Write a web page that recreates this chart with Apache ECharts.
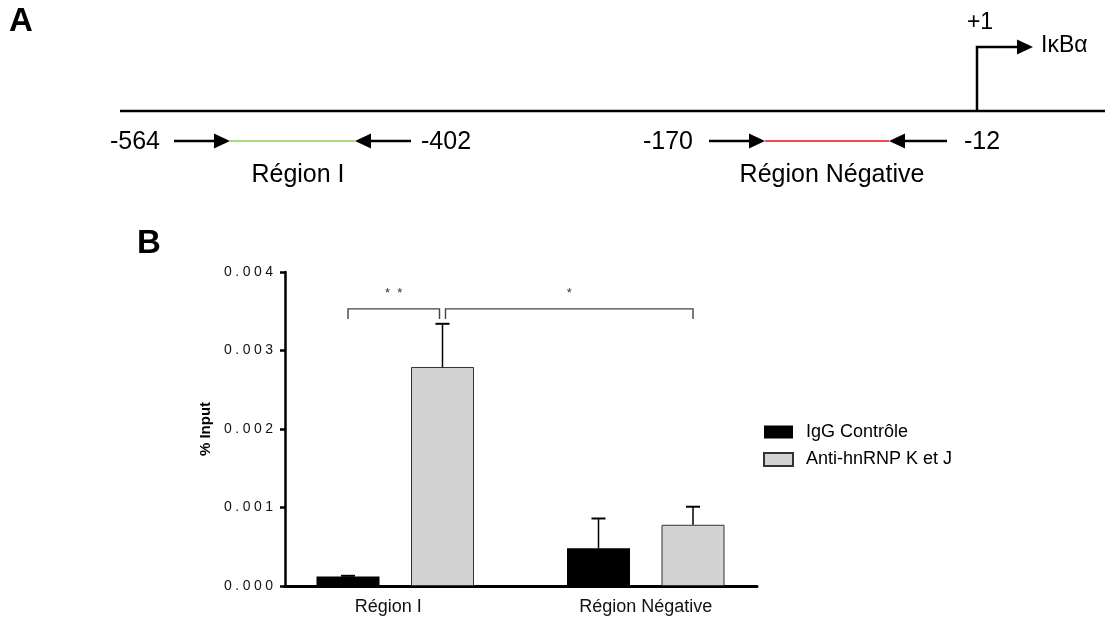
<!DOCTYPE html>
<html>
<head>
<meta charset="utf-8">
<script src="https://cdn.jsdelivr.net/npm/echarts@6/dist/echarts.min.js"></script>
<style>
  html, body { margin: 0; padding: 0; background: #fff; }
  #chart { width: 1109px; height: 620px; }
</style>
</head>
<body>
<div id="chart"></div>
<script>
// --- data ---
var categories = ['Région I', 'Région Négative'];
var seriesNames = ['IgG Contrôle', 'Anti-hnRNP K et J'];
var iggValues = [0.00012, 0.00048];
var iggErrors = [0.00001, 0.00038];
var antiValues = [0.00279, 0.00078];
var antiErrors = [0.00055, 0.00023];
var yMin = 0, yMax = 0.004, yStep = 0.001;
// [category from, series from, category to, series to, height, label]
var brackets = [
  [0, 0, 0, 1, 0.00353, '*  *'],
  [0, 1, 1, 1, 0.00353, '*']
];
// panel A labels
var primerLabels = ['-564', '-402', '-170', '-12'];
var regionLabels = ['Région I', 'Région Négative'];
var tssLabel = '+1';
var geneLabel = 'IκBα';

var FONT = '"Liberation Sans", Arial, sans-serif';
var barWidth = 63;
var halfStep = barWidth * 1.5 / 2;   // barGap 50%
var bracketInset = [[0, -3], [3, 0]];

var errData = [];
for (var i = 0; i < categories.length; i++) {
  errData.push([i, 0, iggValues[i], iggErrors[i]]);
  errData.push([i, 1, antiValues[i], antiErrors[i]]);
}

function renderError(params, api) {
  var cat = api.value(0), s = api.value(1), v = api.value(2), e = api.value(3);
  var base = api.coord([cat, v]);
  var top = api.coord([cat, v + e]);
  var x = base[0] + (s === 0 ? -halfStep : halfStep);
  return {
    type: 'group',
    children: [
      { type: 'line', shape: { x1: x, y1: base[1], x2: x, y2: top[1] }, style: { stroke: '#000', lineWidth: 1.5 } },
      { type: 'line', shape: { x1: x - 7, y1: top[1], x2: x + 7, y2: top[1] }, style: { stroke: '#000', lineWidth: 2 } }
    ]
  };
}

function renderBracket(params, api) {
  var b = brackets[params.dataIndex];
  var p0 = api.coord([b[0], b[4]]);
  var p1 = api.coord([b[2], b[4]]);
  var x0 = p0[0] + (b[1] === 0 ? -halfStep : halfStep) + bracketInset[params.dataIndex][0];
  var x1 = p1[0] + (b[3] === 0 ? -halfStep : halfStep) + bracketInset[params.dataIndex][1];
  var y = p0[1];
  var st = { stroke: '#444', lineWidth: 1.4, fill: null };
  return {
    type: 'group',
    children: [
      { type: 'polyline', shape: { points: [[x0, y + 10], [x0, y], [x1, y], [x1, y + 10]] }, style: st },
      { type: 'text', style: { text: b[5], x: (x0 + x1) / 2, y: y - 15, textAlign: 'center', textVerticalAlign: 'middle',
        fontSize: 13, fontFamily: FONT, fill: '#333' } }
    ]
  };
}

// panel A drawing
function arrowHead(tipX, y, dir) {
  // dir = 1 points right, -1 points left
  return { type: 'polygon', shape: { points: [[tipX, y], [tipX - dir * 16, y - 7.5], [tipX - dir * 16, y + 7.5]] },
    style: { fill: '#000' } };
}
function hline(x1, x2, y, color, w) {
  return { type: 'line', shape: { x1: x1, y1: y, x2: x2, y2: y }, style: { stroke: color, lineWidth: w } };
}
function label(txt, x, y, align, size, weight) {
  return { type: 'text', style: { text: txt, x: x, y: y, textAlign: align, textVerticalAlign: 'middle',
    fontSize: size, fontWeight: weight || 'normal', fontFamily: FONT, fill: '#000' } };
}

var lineY = 111, primerY = 141;
var graphics = [
  label('A', 9, 22, 'left', 33, 'bold'),
  label('B', 137, 244, 'left', 33, 'bold'),
  hline(120, 1105, lineY, '#000', 2.5),
  // TSS
  { type: 'polyline', shape: { points: [[977, lineY], [977, 47], [1018, 47]] }, style: { stroke: '#000', lineWidth: 2.5, fill: null } },
  arrowHead(1033, 47, 1),
  label(tssLabel, 980, 23, 'center', 23),
  label(geneLabel, 1041, 46, 'left', 23),
  // region I primers
  hline(174, 216, primerY, '#000', 2.5), arrowHead(230, primerY, 1),
  hline(230, 355, primerY, '#a6dc80', 2),
  hline(370, 411, primerY, '#000', 2.5), arrowHead(355, primerY, -1),
  label(primerLabels[0], 160, primerY + 1, 'right', 25),
  label(primerLabels[1], 421, primerY + 1, 'left', 25),
  label(regionLabels[0], 298, 175, 'center', 25),
  // negative region primers
  hline(709, 750, primerY, '#000', 2.5), arrowHead(765, primerY, 1),
  hline(765, 889, primerY, '#f44848', 2),
  hline(904, 947, primerY, '#000', 2.5), arrowHead(889, primerY, -1),
  label(primerLabels[2], 693, primerY + 1, 'right', 25),
  label(primerLabels[3], 964, primerY + 1, 'left', 25),
  label(regionLabels[1], 832, 175, 'center', 25)
];

var myChart = echarts.init(document.getElementById('chart'));
var option = {
  backgroundColor: '#fff',
  animation: false,
  textStyle: { fontFamily: FONT },
  graphic: { elements: graphics },
  legend: {
    data: seriesNames,
    orient: 'vertical',
    left: 758, top: 418,
    itemWidth: 29, itemHeight: 13, itemGap: 9.5,
    icon: 'rect',
    textStyle: { fontSize: 18, color: '#000', fontFamily: FONT, padding: [0, 0, 0, 8] }
  },
  grid: [
    { left: 270, top: 272, width: 501, bottom: 34 },
    { left: 285, top: 272, width: 472, bottom: 34 }
  ],
  xAxis: [{
    type: 'category',
    gridIndex: 0,
    data: [{ value: categories[0], textStyle: { padding: [0, 14, 0, 0] } }, categories[1]],
    axisLine: { show: false },
    axisTick: { show: false },
    axisLabel: { fontSize: 18, color: '#111', margin: 12, fontFamily: FONT }
  }, {
    type: 'value',
    gridIndex: 1,
    axisLine: { show: true, onZero: false, lineStyle: { color: '#000', width: 3 } },
    axisTick: { show: false },
    axisLabel: { show: false },
    splitLine: { show: false }
  }],
  yAxis: [{
    type: 'value',
    gridIndex: 0,
    offset: -15,
    min: yMin, max: yMax, interval: yStep,
    name: '% Input',
    nameLocation: 'middle',
    nameGap: 72,
    nameTextStyle: { fontSize: 15, fontWeight: 'bold', color: '#000', fontFamily: FONT },
    axisLine: { show: true, lineStyle: { color: '#000', width: 2.5 } },
    axisTick: { show: true, length: 5, lineStyle: { color: '#000', width: 2.5 } },
    axisLabel: {
      fontSize: 14, color: '#111', margin: 12, fontFamily: FONT,
      formatter: function (v) { return v.toFixed(3).split('').join('\u2005'); }
    },
    splitLine: { show: false }
  }, {
    type: 'value',
    gridIndex: 1,
    show: false
  }],
  series: [{
    name: seriesNames[0],
    type: 'bar',
    barWidth: barWidth,
    barGap: '50%',
    itemStyle: { color: '#000' },
    data: iggValues
  }, {
    name: seriesNames[1],
    type: 'bar',
    barWidth: barWidth,
    barGap: '50%',
    itemStyle: { color: '#d3d3d3', borderColor: '#333', borderWidth: 1 },
    data: antiValues
  }, {
    type: 'custom',
    renderItem: renderError,
    data: errData,
    z: 3,
    silent: true
  }, {
    type: 'custom',
    renderItem: renderBracket,
    data: brackets.map(function (b) { return [b[0], b[4]]; }),
    z: 3,
    silent: true
  }]
};
myChart.setOption(option);
</script>
</body>
</html>
